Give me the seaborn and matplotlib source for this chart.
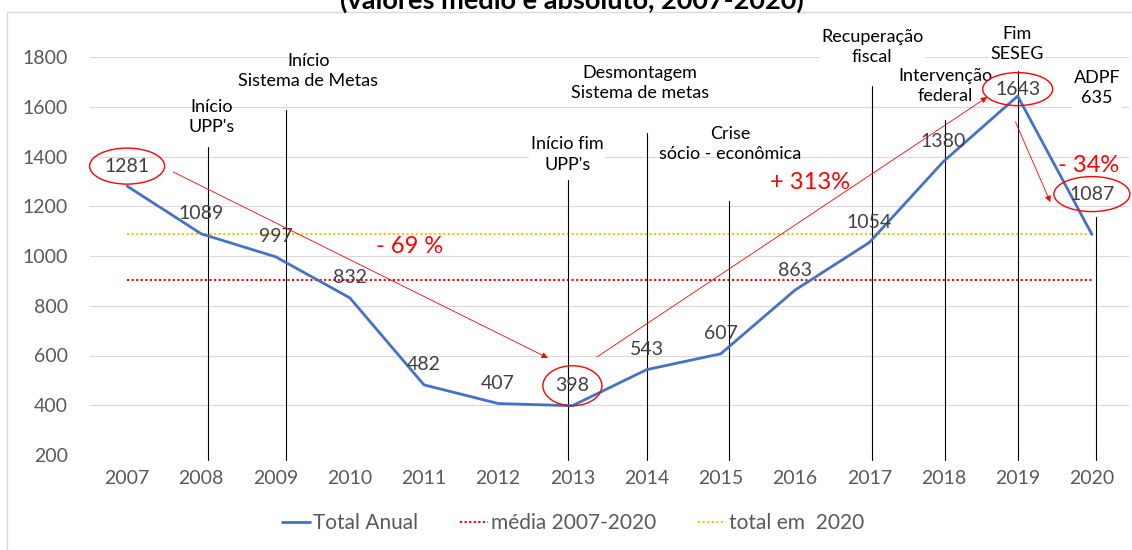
import numpy as np
import pandas as pd
import matplotlib.pyplot as plt
import seaborn as sns
from matplotlib.patches import Ellipse, Rectangle
from matplotlib.transforms import offset_copy

# Data
years = [2007, 2008, 2009, 2010, 2011, 2012, 2013, 2014, 2015, 2016, 2017, 2018, 2019, 2020]
totals = [1281, 1089, 997, 832, 482, 407, 398, 543, 607, 863, 1054, 1380, 1643, 1087]
media_2007_2020 = 904.5
total_2020 = 1087

event_years = [2008, 2009, 2013, 2014, 2015, 2017, 2018, 2019, 2020]
event_labels = ["Início\nUPP's", "Início\nSistema de Metas", "Início fim\nUPP's",
                "Desmontagem\nSistema de metas", "Crise\nsócio - econômica",
                "Recuperação\nfiscal", "Intervenção\nfederal", "Fim\nSESEG", "ADPF\n635"]

variation_labels = ["- 69 %", "+ 313%", "- 34%"]

# Layout (annotation placement only)
event_line_dx = [0.09, 0.14, -0.06, 0.0, 0.11, 0.04, 0.02, 0.01, 0.06]
event_line_top = [1438, 1587, 1305, 1494, 1221, 1683, 1547, 1744, 1157]
event_text_xy = [(2008.14, 1559), (2009.44, 1744), (2012.93, 1408), (2013.91, 1695),
                 (2015.13, 1450), (2017.04, 1840), (2018.02, 1683), (2018.99, 1852),
                 (2020.07, 1675)]
event_boxed = [False, False, True, True, False, True, True, True, True]
variation_xy = [(2010.81, 1040), (2016.20, 1297), (2019.95, 1362)]
arrows = [((2007.62, 1338), (2012.67, 590)),
          ((2013.33, 594), (2018.59, 1639)),
          ((2018.97, 1539), (2019.44, 1217))]
label_dy = {2019: 5, 2020: 29}
ellipse_px = {2007: (75, 36), 2013: (59, 40), 2019: (70, 33), 2020: (76, 35)}

BLUE = '#4472C4'
RED = '#FF0000'
YELLOW = '#FFC000'

sns.set_style('white')
plt.rcParams['font.family'] = ['Lato', 'DejaVu Sans']

fig = plt.figure(figsize=(11.32, 5.5), dpi=100)
ax = fig.add_axes([90 / 1132, 95 / 550, 1039 / 1132, 398 / 550])
ax.set_xlim(2006.5, 2020.5)
ax.set_ylim(200, 1800)

df = pd.DataFrame({'Ano': years, 'Total': totals})
sns.lineplot(data=df, x='Ano', y='Total', color=BLUE, lw=2, label='Total Anual', ax=ax, zorder=5)
sns.lineplot(x=[years[0], years[-1]], y=[media_2007_2020, media_2007_2020], color=RED,
             lw=1.5, linestyle=(0, (1, 1.2)), label='média 2007-2020', ax=ax, zorder=2)
sns.lineplot(x=[years[0], years[-1]], y=[total_2020, total_2020], color=YELLOW,
             lw=1.5, linestyle=(0, (1, 1.2)), label='total em  2020', ax=ax, zorder=2)

# event markers
for yr, dx, top, lab, (tx, ty), boxed in zip(event_years, event_line_dx, event_line_top,
                                             event_labels, event_text_xy, event_boxed):
    ax.plot([yr + dx, yr + dx], [180, top], color='black', lw=0.8, clip_on=False, zorder=4)
    kw = dict(bbox=dict(fc='white', ec='none', pad=1)) if boxed else {}
    ax.text(tx, ty, lab, ha='center', va='center', fontsize=13, linespacing=1.35,
            color='black', clip_on=False, zorder=3, **kw)

# data labels
x_to_px = 1039 / 14
y_to_px = 398 / 1600
for yr, v in zip(years, totals):
    dy = label_dy.get(yr, 14.4)
    ax.annotate(str(v), (yr, v), xytext=(0, dy), textcoords='offset points',
                ha='center', va='center', fontsize=14, color='#404040', zorder=6)
    if yr in ellipse_px:
        w, h = ellipse_px[yr]
        tr = offset_copy(ax.transData, fig=fig, x=0, y=dy, units='points')
        ax.add_patch(Ellipse((yr, v), w / x_to_px, h / y_to_px, transform=tr,
                             fill=False, ec=RED, lw=1, clip_on=False, zorder=6))

# variation arrows and text
for (start, end) in arrows:
    ax.annotate('', xy=end, xytext=start,
                arrowprops=dict(arrowstyle='-|>', color=RED, lw=0.6, mutation_scale=9,
                                shrinkA=0, shrinkB=0), zorder=6)
for s, (x, y) in zip(variation_labels, variation_xy):
    ax.text(x, y, s, color=RED, fontsize=17, ha='center', va='center', zorder=6)

ax.set_xticks(years)
ax.set_yticks(range(200, 1801, 200))
ax.grid(axis='y', color='#D9D9D9', lw=0.8)
ax.grid(axis='x', visible=False)
ax.tick_params(axis='both', length=0, labelsize=14, labelcolor='#595959')
ax.tick_params(axis='y', pad=16)
ax.tick_params(axis='x', pad=11)
ax.set_xlabel('')
ax.set_ylabel('')
sns.despine(ax=ax, left=True, bottom=True)

ax.legend(loc='center', bbox_to_anchor=(573 / 1132, 1 - 523 / 550), bbox_transform=fig.transFigure,
          ncol=3, frameon=False, fontsize=15, handlelength=1.35, handletextpad=0.15,
          columnspacing=2.0, labelcolor='#595959')

fig.text(0.505, 1 - 9 / 550, '(valores médio e absoluto, 2007-2020)', ha='center',
         va='baseline', fontsize=19.5, fontweight='bold', color='black')
fig.add_artist(Rectangle((7 / 1132, -0.01), 1.0, 1 - 12 / 550 + 0.01, transform=fig.transFigure,
                         fill=False, ec='#D9D9D9', lw=1))

fig.savefig('out.png', dpi=100)
